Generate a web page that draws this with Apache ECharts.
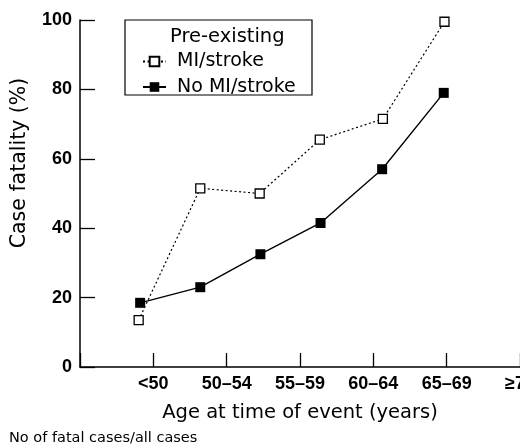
<!DOCTYPE html>
<html>
<head>
<meta charset="utf-8">
<script src="https://cdn.jsdelivr.net/npm/echarts@6/dist/echarts.min.js"></script>
<style>
html,body{margin:0;padding:0;background:#fff;}
#chart{width:520px;height:445px;}
</style>
</head>
<body>
<div id="chart"></div>
<script>
// Tick labels for the age groups (axis positions 1..6)
var tickLabels = ["<50", "50\u201354", "55\u201359", "60\u201364", "65\u201369", "\u226570"];
// Series: pre-existing MI/stroke (open squares)
var mixX = [0.80, 1.64, 2.45, 3.27, 4.13, 4.97];
var mixY = [13.5, 51.5, 50, 65.5, 71.5, 99.5];
// Series: no MI/stroke (filled squares)
var noX = [0.82, 1.64, 2.46, 3.28, 4.12, 4.96];
var noY = [18.5, 23, 32.5, 41.5, 57, 79];
var legendTitle = "Pre-existing";
var seriesNames = ["MI/stroke", "No MI/stroke"];
var xTitle = "Age at time of event (years)";
var yTitle = "Case fatality (%)";
var footer = "No of fatal cases/all cases";

function pairs(xs, ys) {
  var out = [];
  for (var i = 0; i < xs.length; i++) out.push([xs[i], ys[i]]);
  return out;
}

var chart = echarts.init(document.getElementById('chart'), null, {renderer: 'canvas'});
var tickFont = {fontFamily: 'Liberation Sans', fontWeight: 'bold', fontSize: 18, color: '#000'};

chart.setOption({
  animation: false,
  backgroundColor: '#fff',
  grid: {left: 80, top: 20, right: 0, bottom: 78, containLabel: false, outerBoundsMode: 'none'},
  xAxis: {
    type: 'value', min: 0, max: 6, interval: 1,
    name: xTitle, nameLocation: 'middle', nameGap: 45.5,
    nameTextStyle: {fontFamily: 'DejaVu Sans', fontSize: 19.5, color: '#000', verticalAlign: 'middle'},
    axisLine: {show: true, lineStyle: {color: '#000', width: 1.5}},
    axisTick: {show: true, inside: true, length: 14, lineStyle: {color: '#000', width: 1.3}},
    splitLine: {show: false},
    axisLabel: Object.assign({margin: 8, formatter: function (v) { return v >= 1 ? tickLabels[v - 1] : ''; }}, tickFont)
  },
  yAxis: {
    type: 'value', min: 0, max: 100, interval: 20,
    axisLine: {show: true, lineStyle: {color: '#000', width: 1.5}},
    axisTick: {show: true, inside: true, length: 15, lineStyle: {color: '#000', width: 1.3}},
    splitLine: {show: false},
    axisLabel: Object.assign({margin: 8}, tickFont)
  },
  legend: {
    orient: 'vertical', left: 137, top: 47, itemWidth: 23, itemHeight: 12, itemGap: 6.5,
    formatter: ' {name}',
    selectedMode: false,
    textStyle: {fontFamily: 'DejaVu Sans', fontSize: 19, color: '#000'},
    data: seriesNames
  },
  graphic: [
    {type: 'rect', shape: {x: 125, y: 20, width: 187, height: 75}, style: {fill: '#fff', stroke: '#000', lineWidth: 1.2}, z: 0},
    {type: 'text', x: 170, y: 37, style: {text: legendTitle, font: '19.5px "DejaVu Sans"', fill: '#000', textAlign: 'left', textVerticalAlign: 'middle'}, z: 1},
    {type: 'text', x: 20, y: 163, rotation: Math.PI / 2, style: {text: yTitle, font: '20.5px "DejaVu Sans"', fill: '#000', textAlign: 'center', textVerticalAlign: 'middle'}},
    {type: 'text', x: 9, y: 438, style: {text: footer, font: '14.5px "DejaVu Sans"', fill: '#000', textAlign: 'left', textVerticalAlign: 'middle'}}
  ],
  series: [
    {
      name: seriesNames[0], type: 'line', data: pairs(mixX, mixY),
      symbol: 'rect', symbolSize: 9,
      lineStyle: {color: '#000', width: 1.2, type: [2, 2.5]},
      itemStyle: {color: '#fff', borderColor: '#000', borderWidth: 1.3},
      emphasis: {disabled: true}, z: 2
    },
    {
      name: seriesNames[1], type: 'line', data: pairs(noX, noY),
      symbol: 'rect', symbolSize: 10,
      lineStyle: {color: '#000', width: 1.4, type: 'solid'},
      itemStyle: {color: '#000', borderColor: '#000', borderWidth: 0},
      emphasis: {disabled: true}, z: 3
    }
  ]
});
</script>
</body>
</html>
